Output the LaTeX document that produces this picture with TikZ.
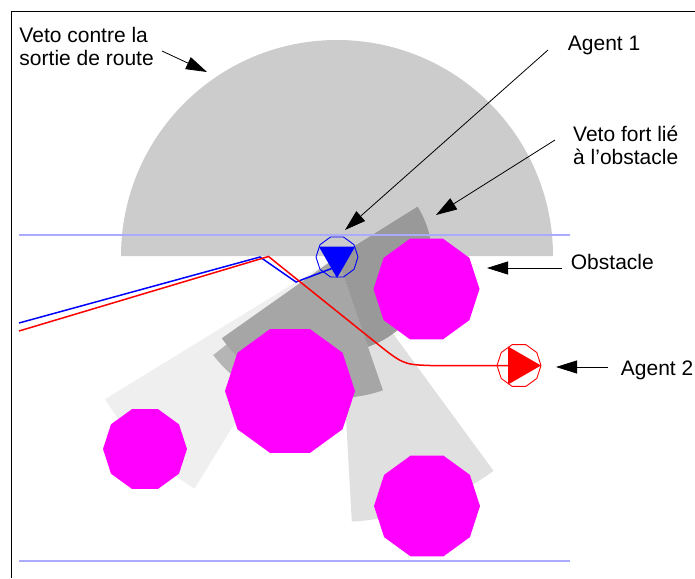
\documentclass[tikz,border=0pt]{standalone}
\usepackage{fontspec}
\setmainfont{Liberation Sans}
\usetikzlibrary{arrows.meta,shapes.geometric}
\definecolor{obstmag}{RGB}{255,0,255}
\definecolor{roadblue}{RGB}{170,170,255}
\definecolor{semigray}{RGB}{204,204,204}
\definecolor{lightA}{RGB}{239,239,239}
\definecolor{lightB}{RGB}{224,224,224}
\definecolor{midC}{RGB}{181,181,181}
\definecolor{midD}{RGB}{166,166,166}
\definecolor{darkE}{RGB}{153,153,153}
\begin{document}
\begin{tikzpicture}[x=1pt,y=-1pt,
  obst/.style={regular polygon, regular polygon sides=10, fill=obstmag, draw=none, inner sep=0pt, outer sep=0pt, minimum size=#1},
  agentshape/.style={regular polygon, regular polygon sides=10, minimum size=#1, inner sep=0pt, outer sep=0pt, line width=0.9pt},
  road/.style={draw=roadblue, line width=1.6pt},
  lbl/.style={font=\fontsize{21}{23}\selectfont, inner sep=0pt, align=left, anchor=base west},
  pointer/.style={draw=black, line width=0.8pt, -{Triangle[length=21pt,width=13pt]}},
  trackline/.style={line width=1.5pt, line join=miter},
]
\useasboundingbox (0,0) rectangle (695,578);
% frame
\draw[line width=1pt] (11,578) -- (11,12) -- (695,12);
% veto contre la sortie de route
\fill[semigray] (121,256) arc[start angle=180, end angle=360, radius=216] -- cycle;
% agent 1 reference point
\coordinate (A1) at (337,257);
% cones
\fill[lightA] (A1) -- ++(121.6:272) arc[start angle=121.6, end angle=148.5, radius=272] -- cycle;
\fill[lightB] (A1) -- ++(53.8:265) arc[start angle=53.8, end angle=86.8, radius=265] -- cycle;
\fill[midC] (A1) -- ++(100:158) arc[start angle=100, end angle=141.6, radius=158] -- cycle;
\fill[midD] (A1) -- ++(71:141) arc[start angle=71, end angle=144.8, radius=141] -- cycle;
\fill[darkE] (A1) -- ++(-32:95) arc[start angle=-32, end angle=71, radius=95] -- cycle;
% road edges
\coordinate (r1a) at (19,235); \coordinate (r1b) at (570,235);
\coordinate (r2a) at (19,561); \coordinate (r2b) at (570,561);
\draw[road] (r1a) -- (r1b);
\draw[road] (r2a) -- (r2b);
% obstacles
\node[obst=106] (o1) at (426.5,289) {};
\node[obst=130] (o2) at (290,391) {};
\node[obst=84] (o3) at (145,449) {};
\node[obst=106] (o4) at (427,506) {};
% trajectories
\draw[trackline, blue] (19,323) -- (260,257) -- (296,282) -- (333,268);
\draw[trackline, red] (19,331) -- (268.5,256.5) -- (372,339.5) .. controls (403,364.5) .. (430,365.5) -- (508,365.5);
% agents
\node[agentshape=42, draw=blue] (ag1) at (A1) {};
\fill[blue] (318.8,246.5) -- (355.2,246.5) -- (337,278) -- cycle;
\node[agentshape=44, draw=red] (ag2) at (519,365.5) {};
\fill[red] (508,346.5) -- (508,384.5) -- (541,365.5) -- cycle;
% labels
\node[lbl] (lroute) at (19.3,66) {Veto contre la\\sortie de route};
\node[lbl] (lag1) at (567.7,50.7) {Agent 1};
\node[lbl] (lfort) at (573,164.5) {Veto fort li\'e\\\`a l{\char"27}obstacle};
\node[lbl] (lobst) at (570.7,269.5) {Obstacle};
\node[lbl] (lag2) at (620.7,375) {Agent 2};
% pointers
\coordinate (p1t) at (162,51);  \coordinate (p1h) at (207,72);
\coordinate (p2t) at (548,50);  \coordinate (p2h) at (345,230);
\coordinate (p3t) at (555,140); \coordinate (p3h) at (436,215);
\coordinate (p4t) at (562,268); \coordinate (p4h) at (487,268);
\coordinate (p5t) at (608,367); \coordinate (p5h) at (556,367);
\draw[pointer] (p1t) -- (p1h);
\draw[pointer] (p2t) -- (p2h);
\draw[pointer] (p3t) -- (p3h);
\draw[pointer] (p4t) -- (p4h);
\draw[pointer] (p5t) -- (p5h);
\end{tikzpicture}
\end{document}
